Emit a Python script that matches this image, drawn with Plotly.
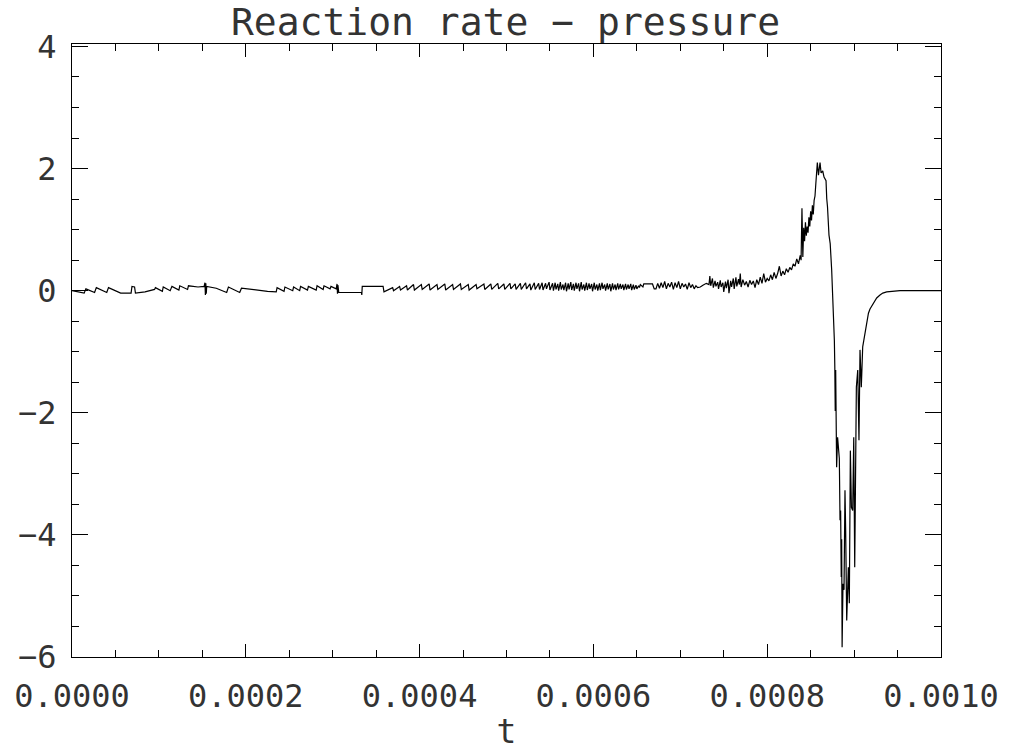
import plotly.graph_objects as go

# (time in microseconds, value), grouped by stretch of the curve
seg_early = [
    (0, 0.00), (14, -0.04), (16, 0.03), (26, -0.03), (28, 0.05), (40, -0.03), (42, 0.05),
    (56, -0.04), (60, -0.04), (68, -0.04), (69, 0.07), (72, 0.06), (73, -0.04), (84, -0.02),
    (95, 0.02), (96, 0.05), (104, -0.01), (105, 0.06), (113, 0.00), (115, 0.07), (123, 0.01),
    (124, 0.08), (133, 0.02), (134, 0.08), (145, 0.06), (152, 0.07), (153, 0.13),
    (153.5, -0.07), (154, 0.12), (154.5, -0.05), (155, 0.07), (166, 0.04), (178, -0.03),
    (180, 0.06), (193, -0.03), (195, 0.04), (205, 0.02), (215, 0.01), (225, -0.01),
    (235, -0.02), (236, 0.05), (244, -0.01), (245, 0.06), (254, 0.00), (255, 0.06),
    (262, 0.00), (263, 0.07), (271, 0.01), (272, 0.07), (281, 0.01), (282, 0.08),
    (289, 0.02), (290, 0.08), (297, 0.03), (298, 0.07), (304, 0.03), (305, 0.11),
    (305.5, -0.05), (306, 0.09), (307, -0.03), (330, -0.03), (333, -0.03), (333.5, -0.07),
    (334, 0.07), (345, 0.07), (358, 0.07), (359, -0.02), (369, 0.05), (370, 0.00),
    (377, 0.07), (378, 0.01), (385, 0.08),
]
seg_saw = [
    (386, 0.01), (393, 0.10), (394, 0.01), (402, 0.10), (403, 0.02), (411, 0.11), (412, 0.01),
    (420, 0.10), (421, 0.02), (429, 0.11), (430, 0.01), (438, 0.10), (439, 0.02), (447, 0.11),
    (448, 0.02), (456, 0.10), (457, 0.01), (465, 0.10), (466, 0.03), (474, 0.11), (475, 0.02),
    (482, 0.11), (483, 0.02), (490, 0.12), (491, 0.03), (497, 0.11), (498, 0.02), (504, 0.12),
    (505, 0.03), (510, 0.11), (511, 0.02), (516, 0.12), (517, 0.02), (522, 0.13), (523, 0.03),
    (527, 0.11), (528, 0.01), (532, 0.13), (533, 0.02), (537, 0.12), (538, 0.02), (541, 0.13),
    (542, 0.01), (545, 0.12), (546, 0.03), (549, 0.14), (550, 0.01),
]
seg_noise = [
    (553, 0.12), (554, 0.00), (556, 0.13), (557, 0.02), (559, 0.11), (560, 0.00), (562, 0.14),
    (563, 0.02), (565, 0.10), (566, 0.01), (568, 0.13), (569, -0.01), (571, 0.12), (572, 0.02),
    (574, 0.14), (575, 0.01), (577, 0.11), (578, 0.00), (580, 0.13), (581, 0.03), (583, 0.12),
    (584, -0.01), (586, 0.14), (587, 0.02), (589, 0.10), (590, 0.00), (592, 0.13), (593, 0.01),
    (595, 0.12), (596, 0.03), (598, 0.11), (599, -0.01), (601, 0.13), (602, 0.02), (604, 0.10),
    (605, 0.00), (607, 0.12), (608, 0.01), (610, 0.13), (611, 0.03), (613, 0.10), (614, 0.00),
    (616, 0.12), (617, 0.02), (619, 0.11), (620, -0.01), (622, 0.12), (623, 0.02), (625, 0.10),
    (626, 0.01), (628, 0.12), (629, 0.02), (631, 0.11), (632, 0.03), (634, 0.10), (635, 0.01),
    (637, 0.11), (638, 0.02), (640, 0.10), (641, 0.03), (643, 0.11), (644, 0.01), (646, 0.10),
    (647, 0.02), (649, 0.09), (650, 0.03), (652, 0.08), (653, 0.05),
]
seg_step = [
    (654, 0.10), (657, 0.06), (658, 0.11), (668, 0.11), (670, 0.03), (672, 0.03),
]
seg_noise2 = [
    (674, 0.12), (676, 0.04), (678, 0.13), (680, 0.05), (682, 0.15), (684, 0.03), (686, 0.12),
    (688, 0.06), (690, 0.14), (692, 0.02), (694, 0.13), (696, 0.05), (698, 0.15), (700, 0.03),
    (702, 0.12), (704, 0.06), (706, 0.11), (708, 0.02), (710, 0.13), (712, 0.05), (714, 0.10),
    (716, 0.03), (718, 0.08),
]
seg_pre = [
    (720, 0.05), (723, 0.06), (726, 0.09), (730, 0.12), (733, 0.10), (734, 0.24), (735, 0.08),
    (737, 0.20), (738, 0.05), (740, 0.16), (741, 0.07), (743, 0.14), (744, 0.03), (746, 0.17),
    (747, 0.06), (749, 0.13), (750, -0.02), (752, 0.15), (753, 0.04), (755, 0.18),
    (756, -0.04), (758, 0.16), (759, 0.06), (761, 0.20), (762, 0.03), (764, 0.22), (765, 0.07),
    (767, 0.19), (768, 0.10), (769, 0.28), (770, 0.06),
]
seg_rise = [
    (772, 0.18), (774, 0.09), (776, 0.15), (778, 0.06), (780, 0.17), (782, 0.10), (784, 0.16),
    (786, 0.05), (788, 0.18), (790, 0.10), (792, 0.22), (794, 0.12), (796, 0.28), (798, 0.14),
    (800, 0.20), (802, 0.16), (804, 0.26), (806, 0.18), (808, 0.30), (810, 0.20), (812, 0.28),
    (814, 0.40), (816, 0.24), (818, 0.32), (820, 0.26), (822, 0.36), (824, 0.30), (826, 0.38),
    (828, 0.34), (830, 0.44), (832, 0.40), (834, 0.52), (836, 0.44), (838, 0.58), (839, 0.50),
    (840, 1.35), (841, 0.55), (842, 1.03), (843, 0.81), (844, 1.12), (845, 0.90), (846, 1.05),
    (847, 0.95), (848, 1.20), (849, 1.05), (850, 1.30), (851, 1.15), (852, 1.40), (853, 1.25),
    (854, 1.48), (855, 1.55), (856, 1.76), (857, 1.93), (857.7, 2.10), (859, 1.89),
    (860.8, 2.10), (862, 1.93), (863.9, 1.96), (865.4, 1.86), (867.7, 1.80), (868.5, 1.51),
    (869.4, 1.37), (871.1, 0.91), (872.5, 0.77), (874.2, 0.34), (876.1, -0.27),
]
seg_dip = [
    (877.3, -0.82), (877.8, -1.25), (878.3, -1.97), (878.8, -1.30), (879.3, -1.90),
    (879.9, -2.89), (881, -2.40), (883, -2.75), (883.8, -3.76), (884.5, -3.60),
    (885.2, -4.69), (885.7, -4.07), (886.2, -5.84), (887.2, -4.80), (888.4, -4.90),
    (889.5, -3.27), (890.3, -3.93), (891.5, -5.40), (893.4, -4.53), (894.5, -5.12),
    (895.7, -2.62), (896.9, -3.55), (898.4, -3.60), (899.6, -2.40), (900.7, -4.53),
    (901.5, -2.57), (902.6, -1.58), (904.2, -1.30), (905.6, -2.45), (906.8, -0.97),
    (908.3, -1.58), (909.9, -0.92), (912.5, -0.69), (915.2, -0.44), (916.5, -0.37),
    (918.3, -0.30), (922.2, -0.21), (924, -0.17), (926, -0.12), (929.8, -0.07), (933, -0.04),
    (937.5, -0.02), (945, -0.01), (952.8, 0.00), (965, 0.00), (980, 0.00), (1000, 0.00),
]

x_ticks = [0.0, 0.0002, 0.0004, 0.0006, 0.0008, 0.0010]
x_tick_text = ["0.0000", "0.0002", "0.0004", "0.0006", "0.0008", "0.0010"]
y_ticks = [-6, -4, -2, 0, 2, 4]

segments = [seg_early, seg_saw, seg_noise, seg_step, seg_noise2, seg_pre, seg_rise, seg_dip]
t = [p[0] * 1e-6 for seg in segments for p in seg]      # microseconds -> seconds
value = [p[1] for seg in segments for p in seg]

FONT = "DejaVu Sans Mono"
TXT = "#333"

fig = go.Figure()
fig.add_trace(go.Scatter(x=t, y=value, mode="lines",
                         line=dict(color="black", width=1.2), showlegend=False))

fig.update_layout(
    width=1011, height=751,
    margin=dict(l=72, r=70, t=44, b=94, autoexpand=False),
    paper_bgcolor="white", plot_bgcolor="white",
    font=dict(family=FONT, color=TXT, size=33),
    title=dict(text="Reaction rate − pressure", x=0.5, xanchor="center",
               y=1 - 22 / 751, yanchor="middle", yref="container",
               font=dict(family=FONT, size=38, color=TXT)),
)

fig.update_xaxes(
    range=[0, 0.001], showgrid=False, zeroline=False, automargin=False,
    showline=True, linecolor="black", linewidth=1.3, mirror="allticks",
    ticks="inside", ticklen=13, tickwidth=1.3, tickcolor="black",
    tickvals=x_ticks, ticktext=x_tick_text,
    tickfont=dict(family=FONT, size=32, color=TXT),
    ticklabelstandoff=10,
    minor=dict(dtick=0.00005, ticks="inside", ticklen=7, tickcolor="black", tickwidth=1.2),
    title=dict(text="t", font=dict(family=FONT, size=33, color=TXT), standoff=6),
)
fig.update_yaxes(
    range=[-6, 4.04], showgrid=False, zeroline=False, automargin=False,
    showline=True, linecolor="black", linewidth=1.3, mirror="allticks",
    ticks="inside", ticklen=16, tickwidth=1.3, tickcolor="black",
    tickvals=y_ticks,
    tickfont=dict(family=FONT, size=32, color=TXT),
    ticklabelstandoff=8,
    minor=dict(dtick=0.5, ticks="inside", ticklen=7, tickcolor="black", tickwidth=1.2),
)

fig.write_html("out.html")
